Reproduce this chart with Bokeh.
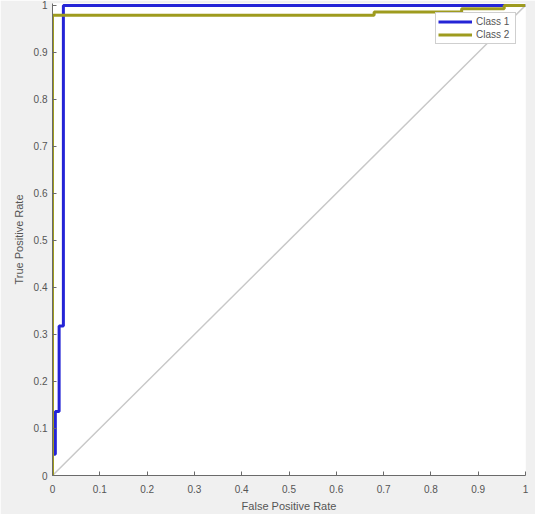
from bokeh.plotting import figure
from bokeh.models import Range1d, FixedTicker, Legend, LegendItem
from bokeh.embed import file_html
from bokeh.resources import INLINE

# ROC curve data
fpr_class1 = [0.0, 0.0, 0.006, 0.006, 0.014, 0.014, 0.023, 0.023, 1.0]
tpr_class1 = [0.0, 0.045, 0.045, 0.136, 0.136, 0.318, 0.318, 1.0, 1.0]
fpr_class2 = [0.0, 0.0, 0.68, 0.68, 0.865, 0.865, 0.955, 0.955, 1.0]
tpr_class2 = [0.0, 0.979, 0.979, 0.986, 0.986, 0.993, 0.993, 1.0, 1.0]
chance_x = [0.0, 1.0]
chance_y = [0.0, 1.0]

tick_values = [0.0, 0.1, 0.2, 0.3, 0.4, 0.5, 0.6, 0.7, 0.8, 0.9, 1.0]
tick_labels = ["0", "0.1", "0.2", "0.3", "0.4", "0.5", "0.6", "0.7", "0.8", "0.9", "1"]
series_names = ["Class 1", "Class 2"]

FONT = "Liberation Sans"
TEXT = "#555555"
AXIS = "#6a6a6a"

p = figure(
    frame_width=473, frame_height=472,
    x_range=Range1d(0, 1), y_range=Range1d(0, 1.004),
    output_backend="svg", toolbar_location=None,
    min_border_left=52, min_border_right=10,
    min_border_top=3, min_border_bottom=37,
)
p.background_fill_color = "white"
p.border_fill_color = "#f0f0f0"
p.outline_line_color = None
p.grid.visible = False

for ax in (p.xaxis[0], p.yaxis[0]):
    ax.ticker = FixedTicker(ticks=tick_values)
    ax.major_label_overrides = {v: l for v, l in zip(tick_values, tick_labels)}
    ax.major_tick_in = 4
    ax.major_tick_out = 0
    ax.minor_tick_line_color = None
    ax.axis_line_color = AXIS
    ax.major_tick_line_color = AXIS
    ax.major_label_text_font = FONT
    ax.major_label_text_font_size = "10px"
    ax.major_label_text_color = TEXT
    ax.axis_label_text_font = FONT
    ax.axis_label_text_font_size = "11px"
    ax.axis_label_text_font_style = "normal"
    ax.axis_label_text_color = TEXT

p.xaxis.axis_label = "False Positive Rate"
p.yaxis.axis_label = "True Positive Rate"
p.xaxis.major_label_standoff = 9
p.xaxis.axis_label_standoff = 4
p.yaxis.major_label_standoff = 5
p.yaxis.axis_label_standoff = 6

p.line(chance_x, chance_y, line_color="#c8c8c8", line_width=1.5)
r1 = p.line(fpr_class1, tpr_class1, line_color="#2424d6", line_width=3)
r2 = p.line(fpr_class2, tpr_class2, line_color="#9e9b1e", line_width=3)

legend = Legend(
    items=[LegendItem(label=series_names[0], renderers=[r1]),
           LegendItem(label=series_names[1], renderers=[r2])],
    location="top_right",
    margin=9,
    padding=2,
    spacing=0,
    glyph_width=34,
    glyph_height=13,
    label_height=13,
    label_width=37,
    label_standoff=4,
    label_text_font=FONT,
    label_text_font_size="10px",
    label_text_color=TEXT,
    border_line_color="#a0a0a0",
    border_line_width=1,
    background_fill_color="white",
    background_fill_alpha=1.0,
)
p.add_layout(legend)

open("out.html", "w").write(file_html(p, INLINE))
